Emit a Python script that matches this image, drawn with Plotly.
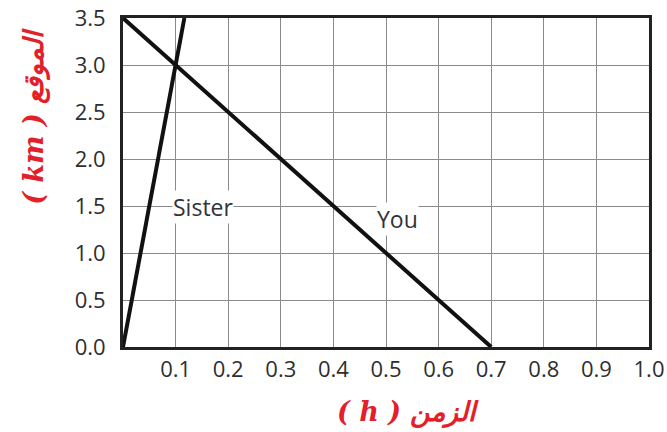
import plotly.graph_objects as go

# Position-time data (time in h, position in km)
sister_time = [0, 0.1, 0.1167]
sister_pos = [0, 3.0, 3.5]
you_time = [0, 0.7]
you_pos = [3.5, 0]

x_ticks = [0.1, 0.2, 0.3, 0.4, 0.5, 0.6, 0.7, 0.8, 0.9, 1.0]
x_ticktext = ["0.1", "0.2", "0.3", "0.4", "0.5", "0.6", "0.7", "0.8", "0.9", "1.0"]
y_ticks = [0.0, 0.5, 1.0, 1.5, 2.0, 2.5, 3.0, 3.5]

line_labels = ["Sister", "You"]
label_x = [0.153, 0.522]
label_y = [1.49, 1.36]

x_title = "( h ) الزمن"
y_title = "( km ) الموقع"

fig = go.Figure()
fig.add_trace(go.Scatter(x=sister_time, y=sister_pos, mode="lines",
                         line=dict(color="#111111", width=4), showlegend=False))
fig.add_trace(go.Scatter(x=you_time, y=you_pos, mode="lines",
                         line=dict(color="#111111", width=4), showlegend=False))

for txt, lx, ly in zip(line_labels, label_x, label_y):
    fig.add_annotation(x=lx, y=ly, text=txt, showarrow=False,
                       font=dict(family="Open Sans", size=23, color="#333333"),
                       bgcolor="white", borderpad=0)

title_font = dict(family="DejaVu Serif", size=27, color="#e3202a",
                  weight="bold", style="italic")

# Axis titles placed as annotations (paper coordinates)
fig.add_annotation(x=0.542, y=-0.198, xref="paper", yref="paper",
                   xanchor="center", yanchor="middle",
                   text=x_title, showarrow=False, font=title_font)
fig.add_annotation(x=-0.167, y=0.70, xref="paper", yref="paper",
                   xanchor="center", yanchor="middle",
                   text=y_title, showarrow=False, font=title_font, textangle=-90)

tick_font = dict(family="Open Sans", size=22, color="#2e2e2e")

fig.update_layout(
    width=667, height=432,
    margin=dict(l=123, r=18, t=18, b=85),
    paper_bgcolor="white", plot_bgcolor="white",
    xaxis=dict(range=[0, 1.0], tickvals=x_ticks, ticktext=x_ticktext,
               showgrid=True, gridcolor="#8a8a8a", gridwidth=1,
               showline=True, linecolor="#222222", linewidth=3, mirror=True,
               zeroline=False, ticks="", ticklabelstandoff=1, automargin=False,
               tickfont=tick_font),
    yaxis=dict(range=[0, 3.5], tickvals=y_ticks, tickformat=".1f",
               showgrid=True, gridcolor="#8a8a8a", gridwidth=1,
               showline=True, linecolor="#222222", linewidth=3, mirror=True,
               zeroline=False, ticks="", ticklabelstandoff=10, automargin=False,
               tickfont=tick_font),
)

fig.write_html("out.html")
